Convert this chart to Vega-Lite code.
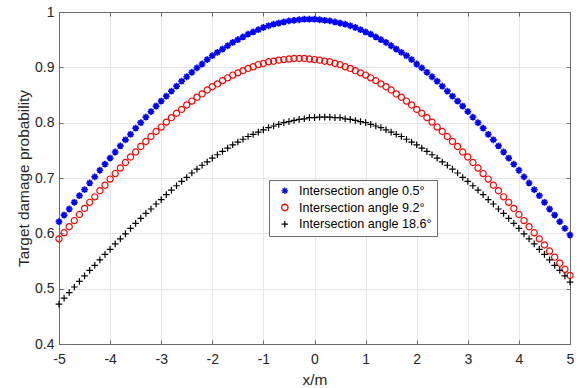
{
"$schema": "https://vega.github.io/schema/vega-lite/v6.json",
"width": 511, "height": 332,
"autosize": {"type": "none"},
"padding": {"left": 59, "top": 12, "right": 12, "bottom": 44},
"background": "white",
"config": {"font": "Liberation Sans", "view": {"stroke": null}},
"resolve": {"axis": {"x": "independent", "y": "independent"}},
"datasets": {
"blue": [
{"x":-5.0,"y":0.621},{"x":-4.9,"y":0.633},{"x":-4.8,"y":0.644},{"x":-4.7,"y":0.656},{"x":-4.6,"y":0.668},{"x":-4.5,"y":0.679},{"x":-4.4,"y":0.691},{"x":-4.3,"y":0.702},{"x":-4.2,"y":0.714},{"x":-4.1,"y":0.725},
{"x":-4.0,"y":0.736},{"x":-3.9,"y":0.747},{"x":-3.8,"y":0.758},{"x":-3.7,"y":0.769},{"x":-3.6,"y":0.779},{"x":-3.5,"y":0.790},{"x":-3.4,"y":0.800},{"x":-3.3,"y":0.810},{"x":-3.2,"y":0.820},{"x":-3.1,"y":0.830},
{"x":-3.0,"y":0.839},{"x":-2.9,"y":0.848},{"x":-2.8,"y":0.857},{"x":-2.7,"y":0.866},{"x":-2.6,"y":0.875},{"x":-2.5,"y":0.883},{"x":-2.4,"y":0.891},{"x":-2.3,"y":0.899},{"x":-2.2,"y":0.906},{"x":-2.1,"y":0.914},
{"x":-2.0,"y":0.921},{"x":-1.9,"y":0.927},{"x":-1.8,"y":0.933},{"x":-1.7,"y":0.939},{"x":-1.6,"y":0.945},{"x":-1.5,"y":0.950},{"x":-1.4,"y":0.955},{"x":-1.3,"y":0.960},{"x":-1.2,"y":0.964},{"x":-1.1,"y":0.968},
{"x":-1.0,"y":0.972},{"x":-0.9,"y":0.975},{"x":-0.8,"y":0.978},{"x":-0.7,"y":0.980},{"x":-0.6,"y":0.982},{"x":-0.5,"y":0.984},{"x":-0.4,"y":0.985},{"x":-0.3,"y":0.986},{"x":-0.2,"y":0.987},{"x":-0.1,"y":0.987},
{"x":0.0,"y":0.987},{"x":0.1,"y":0.986},{"x":0.2,"y":0.985},{"x":0.3,"y":0.984},{"x":0.4,"y":0.982},{"x":0.5,"y":0.980},{"x":0.6,"y":0.978},{"x":0.7,"y":0.975},{"x":0.8,"y":0.972},{"x":0.9,"y":0.968},
{"x":1.0,"y":0.964},{"x":1.1,"y":0.960},{"x":1.2,"y":0.955},{"x":1.3,"y":0.950},{"x":1.4,"y":0.945},{"x":1.5,"y":0.939},{"x":1.6,"y":0.933},{"x":1.7,"y":0.927},{"x":1.8,"y":0.921},{"x":1.9,"y":0.914},
{"x":2.0,"y":0.906},{"x":2.1,"y":0.899},{"x":2.2,"y":0.891},{"x":2.3,"y":0.883},{"x":2.4,"y":0.875},{"x":2.5,"y":0.866},{"x":2.6,"y":0.857},{"x":2.7,"y":0.848},{"x":2.8,"y":0.839},{"x":2.9,"y":0.830},
{"x":3.0,"y":0.820},{"x":3.1,"y":0.810},{"x":3.2,"y":0.800},{"x":3.3,"y":0.790},{"x":3.4,"y":0.779},{"x":3.5,"y":0.769},{"x":3.6,"y":0.758},{"x":3.7,"y":0.747},{"x":3.8,"y":0.736},{"x":3.9,"y":0.725},
{"x":4.0,"y":0.714},{"x":4.1,"y":0.702},{"x":4.2,"y":0.691},{"x":4.3,"y":0.679},{"x":4.4,"y":0.668},{"x":4.5,"y":0.656},{"x":4.6,"y":0.644},{"x":4.7,"y":0.633},{"x":4.8,"y":0.621},{"x":4.9,"y":0.609},{"x":5.0,"y":0.597}
],
"red": [
{"x":-5.0,"y":0.590},{"x":-4.9,"y":0.601},{"x":-4.8,"y":0.612},{"x":-4.7,"y":0.623},{"x":-4.6,"y":0.634},{"x":-4.5,"y":0.645},{"x":-4.4,"y":0.656},{"x":-4.3,"y":0.666},{"x":-4.2,"y":0.677},{"x":-4.1,"y":0.687},
{"x":-4.0,"y":0.698},{"x":-3.9,"y":0.708},{"x":-3.8,"y":0.718},{"x":-3.7,"y":0.728},{"x":-3.6,"y":0.738},{"x":-3.5,"y":0.747},{"x":-3.4,"y":0.757},{"x":-3.3,"y":0.766},{"x":-3.2,"y":0.775},{"x":-3.1,"y":0.784},
{"x":-3.0,"y":0.792},{"x":-2.9,"y":0.801},{"x":-2.8,"y":0.809},{"x":-2.7,"y":0.817},{"x":-2.6,"y":0.824},{"x":-2.5,"y":0.832},{"x":-2.4,"y":0.839},{"x":-2.3,"y":0.846},{"x":-2.2,"y":0.852},{"x":-2.1,"y":0.859},
{"x":-2.0,"y":0.865},{"x":-1.9,"y":0.870},{"x":-1.8,"y":0.876},{"x":-1.7,"y":0.881},{"x":-1.6,"y":0.886},{"x":-1.5,"y":0.890},{"x":-1.4,"y":0.894},{"x":-1.3,"y":0.898},{"x":-1.2,"y":0.901},{"x":-1.1,"y":0.905},
{"x":-1.0,"y":0.907},{"x":-0.9,"y":0.910},{"x":-0.8,"y":0.911},{"x":-0.7,"y":0.913},{"x":-0.6,"y":0.914},{"x":-0.5,"y":0.915},{"x":-0.4,"y":0.916},{"x":-0.3,"y":0.916},{"x":-0.2,"y":0.916},{"x":-0.1,"y":0.915},
{"x":0.0,"y":0.914},{"x":0.1,"y":0.913},{"x":0.2,"y":0.911},{"x":0.3,"y":0.910},{"x":0.4,"y":0.907},{"x":0.5,"y":0.905},{"x":0.6,"y":0.901},{"x":0.7,"y":0.898},{"x":0.8,"y":0.894},{"x":0.9,"y":0.890},
{"x":1.0,"y":0.886},{"x":1.1,"y":0.881},{"x":1.2,"y":0.876},{"x":1.3,"y":0.870},{"x":1.4,"y":0.865},{"x":1.5,"y":0.859},{"x":1.6,"y":0.852},{"x":1.7,"y":0.846},{"x":1.8,"y":0.839},{"x":1.9,"y":0.832},
{"x":2.0,"y":0.824},{"x":2.1,"y":0.817},{"x":2.2,"y":0.809},{"x":2.3,"y":0.801},{"x":2.4,"y":0.792},{"x":2.5,"y":0.784},{"x":2.6,"y":0.775},{"x":2.7,"y":0.766},{"x":2.8,"y":0.757},{"x":2.9,"y":0.747},
{"x":3.0,"y":0.738},{"x":3.1,"y":0.728},{"x":3.2,"y":0.718},{"x":3.3,"y":0.708},{"x":3.4,"y":0.698},{"x":3.5,"y":0.687},{"x":3.6,"y":0.677},{"x":3.7,"y":0.666},{"x":3.8,"y":0.656},{"x":3.9,"y":0.645},
{"x":4.0,"y":0.634},{"x":4.1,"y":0.623},{"x":4.2,"y":0.612},{"x":4.3,"y":0.601},{"x":4.4,"y":0.590},{"x":4.5,"y":0.579},{"x":4.6,"y":0.568},{"x":4.7,"y":0.557},{"x":4.8,"y":0.546},{"x":4.9,"y":0.535},{"x":5.0,"y":0.524}
],
"black": [
{"x":-5.0,"y":0.472},{"x":-4.9,"y":0.483},{"x":-4.8,"y":0.493},{"x":-4.7,"y":0.503},{"x":-4.6,"y":0.513},{"x":-4.5,"y":0.523},{"x":-4.4,"y":0.533},{"x":-4.3,"y":0.542},{"x":-4.2,"y":0.552},{"x":-4.1,"y":0.562},
{"x":-4.0,"y":0.571},{"x":-3.9,"y":0.581},{"x":-3.8,"y":0.590},{"x":-3.7,"y":0.599},{"x":-3.6,"y":0.609},{"x":-3.5,"y":0.618},{"x":-3.4,"y":0.627},{"x":-3.3,"y":0.636},{"x":-3.2,"y":0.644},{"x":-3.1,"y":0.653},
{"x":-3.0,"y":0.661},{"x":-2.9,"y":0.670},{"x":-2.8,"y":0.678},{"x":-2.7,"y":0.686},{"x":-2.6,"y":0.694},{"x":-2.5,"y":0.701},{"x":-2.4,"y":0.709},{"x":-2.3,"y":0.716},{"x":-2.2,"y":0.723},{"x":-2.1,"y":0.729},
{"x":-2.0,"y":0.736},{"x":-1.9,"y":0.742},{"x":-1.8,"y":0.748},{"x":-1.7,"y":0.754},{"x":-1.6,"y":0.760},{"x":-1.5,"y":0.765},{"x":-1.4,"y":0.770},{"x":-1.3,"y":0.775},{"x":-1.2,"y":0.779},{"x":-1.1,"y":0.783},
{"x":-1.0,"y":0.787},{"x":-0.9,"y":0.791},{"x":-0.8,"y":0.794},{"x":-0.7,"y":0.797},{"x":-0.6,"y":0.800},{"x":-0.5,"y":0.802},{"x":-0.4,"y":0.804},{"x":-0.3,"y":0.806},{"x":-0.2,"y":0.807},{"x":-0.1,"y":0.809},
{"x":0.0,"y":0.809},{"x":0.1,"y":0.810},{"x":0.2,"y":0.810},{"x":0.3,"y":0.810},{"x":0.4,"y":0.809},{"x":0.5,"y":0.809},{"x":0.6,"y":0.807},{"x":0.7,"y":0.806},{"x":0.8,"y":0.804},{"x":0.9,"y":0.802},
{"x":1.0,"y":0.800},{"x":1.1,"y":0.797},{"x":1.2,"y":0.794},{"x":1.3,"y":0.791},{"x":1.4,"y":0.787},{"x":1.5,"y":0.783},{"x":1.6,"y":0.779},{"x":1.7,"y":0.775},{"x":1.8,"y":0.770},{"x":1.9,"y":0.765},
{"x":2.0,"y":0.760},{"x":2.1,"y":0.754},{"x":2.2,"y":0.748},{"x":2.3,"y":0.742},{"x":2.4,"y":0.736},{"x":2.5,"y":0.729},{"x":2.6,"y":0.723},{"x":2.7,"y":0.716},{"x":2.8,"y":0.709},{"x":2.9,"y":0.701},
{"x":3.0,"y":0.694},{"x":3.1,"y":0.686},{"x":3.2,"y":0.678},{"x":3.3,"y":0.670},{"x":3.4,"y":0.661},{"x":3.5,"y":0.653},{"x":3.6,"y":0.644},{"x":3.7,"y":0.636},{"x":3.8,"y":0.627},{"x":3.9,"y":0.618},
{"x":4.0,"y":0.609},{"x":4.1,"y":0.599},{"x":4.2,"y":0.590},{"x":4.3,"y":0.581},{"x":4.4,"y":0.571},{"x":4.5,"y":0.562},{"x":4.6,"y":0.552},{"x":4.7,"y":0.542},{"x":4.8,"y":0.533},{"x":4.9,"y":0.523},{"x":5.0,"y":0.512}
]
},
"encoding": {
  "color": {"datum": "x", "type": "nominal", "scale": {"domain": ["Intersection angle 0.5°", "Intersection angle 9.2°", "Intersection angle 18.6°"], "range": ["#0000ff", "#ff0000", "#000000"]},
    "legend": {"title": null, "orient": "none", "legendX": 210, "legendY": 168, "direction": "vertical", "padding": 4.5, "strokeColor": "#6a6a6a", "fillColor": "white", "labelFontSize": 12.6, "labelFont": "Liberation Sans", "labelColor": "#000000", "symbolStrokeWidth": 1.3, "symbolSize": 42, "rowPadding": 3.7, "labelOffset": 8, "symbolOffset": 5, "labelLimit": 400}},
  "shape": {"datum": "x", "type": "nominal", "scale": {"domain": ["Intersection angle 0.5°", "Intersection angle 9.2°", "Intersection angle 18.6°"], "range": ["M0,-1L0,1M-1,0L1,0M-0.7,-0.7L0.7,0.7M-0.7,0.7L0.7,-0.7", "circle", "M0,-1L0,1M-1,0L1,0"]},
    "legend": {"title": null, "orient": "none", "legendX": 210, "legendY": 168, "direction": "vertical", "padding": 4.5, "strokeColor": "#6a6a6a", "fillColor": "white", "labelFontSize": 12.6, "labelFont": "Liberation Sans", "labelColor": "#000000", "symbolStrokeWidth": 1.3, "symbolSize": 42, "rowPadding": 3.7, "labelOffset": 8, "symbolOffset": 5, "labelLimit": 400}}
},
"layer": [
  {"data": {"name": "blue"},
   "mark": {"type": "point", "filled": false, "strokeWidth": 1.7, "size": 46, "opacity": 1},
   "encoding": {
     "x": {"field": "x", "type": "quantitative", "scale": {"domain": [-5, 5], "nice": false, "zero": false}, "axis": {"orient": "bottom", "values": [-5,-4,-3,-2,-1,0,1,2,3,4,5], "labelExpr": "'' + datum.value", "title": "x/m", "titleFontSize": 15.4, "titleFontWeight": "normal", "titleColor": "#262626", "titleFont": "Liberation Sans", "labelFont": "Liberation Sans", "labelFontSize": 14, "labelColor": "#262626", "tickSize": -4, "tickColor": "#6a6a6a", "domainColor": "#6a6a6a", "grid": true, "gridColor": "#e6e6e6", "labelPadding": 12, "titlePadding": 6, "labelFlush": false}},
     "y": {"field": "y", "type": "quantitative", "scale": {"domain": [0.4, 1], "nice": false, "zero": false}, "axis": {"orient": "left", "values": [0.4,0.5,0.6,0.7,0.8,0.9,1], "format": ".1~f", "title": "Target damage probability", "titleFontSize": 15.4, "titleFontWeight": "normal", "titleColor": "#262626", "titleFont": "Liberation Sans", "labelFont": "Liberation Sans", "labelFontSize": 14, "labelColor": "#262626", "tickSize": -4, "tickColor": "#6a6a6a", "domainColor": "#6a6a6a", "grid": true, "gridColor": "#e6e6e6", "labelPadding": 9, "titlePadding": 3, "labelFlush": false}},
     "color": {"datum": "Intersection angle 0.5°"},
     "shape": {"datum": "Intersection angle 0.5°"}
   }},
  {"data": {"name": "red"},
   "mark": {"type": "point", "filled": false, "strokeWidth": 1.2, "size": 38, "opacity": 1},
   "encoding": {
     "x": {"field": "x", "type": "quantitative", "axis": null},
     "y": {"field": "y", "type": "quantitative", "axis": null},
     "color": {"datum": "Intersection angle 9.2°"},
     "shape": {"datum": "Intersection angle 9.2°"}
   }},
  {"data": {"name": "black"},
   "mark": {"type": "point", "filled": false, "strokeWidth": 1.2, "size": 44, "opacity": 1},
   "encoding": {
     "x": {"field": "x", "type": "quantitative", "axis": {"orient": "top", "values": [-5,-4,-3,-2,-1,0,1,2,3,4,5], "labels": false, "title": null, "grid": false, "tickSize": -4, "tickColor": "#6a6a6a", "domainColor": "#6a6a6a"}},
     "y": {"field": "y", "type": "quantitative", "axis": {"orient": "right", "values": [0.4,0.5,0.6,0.7,0.8,0.9,1], "labels": false, "title": null, "grid": false, "tickSize": -4, "tickColor": "#6a6a6a", "domainColor": "#6a6a6a"}},
     "color": {"datum": "Intersection angle 18.6°"},
     "shape": {"datum": "Intersection angle 18.6°"}
   }}
]
}
